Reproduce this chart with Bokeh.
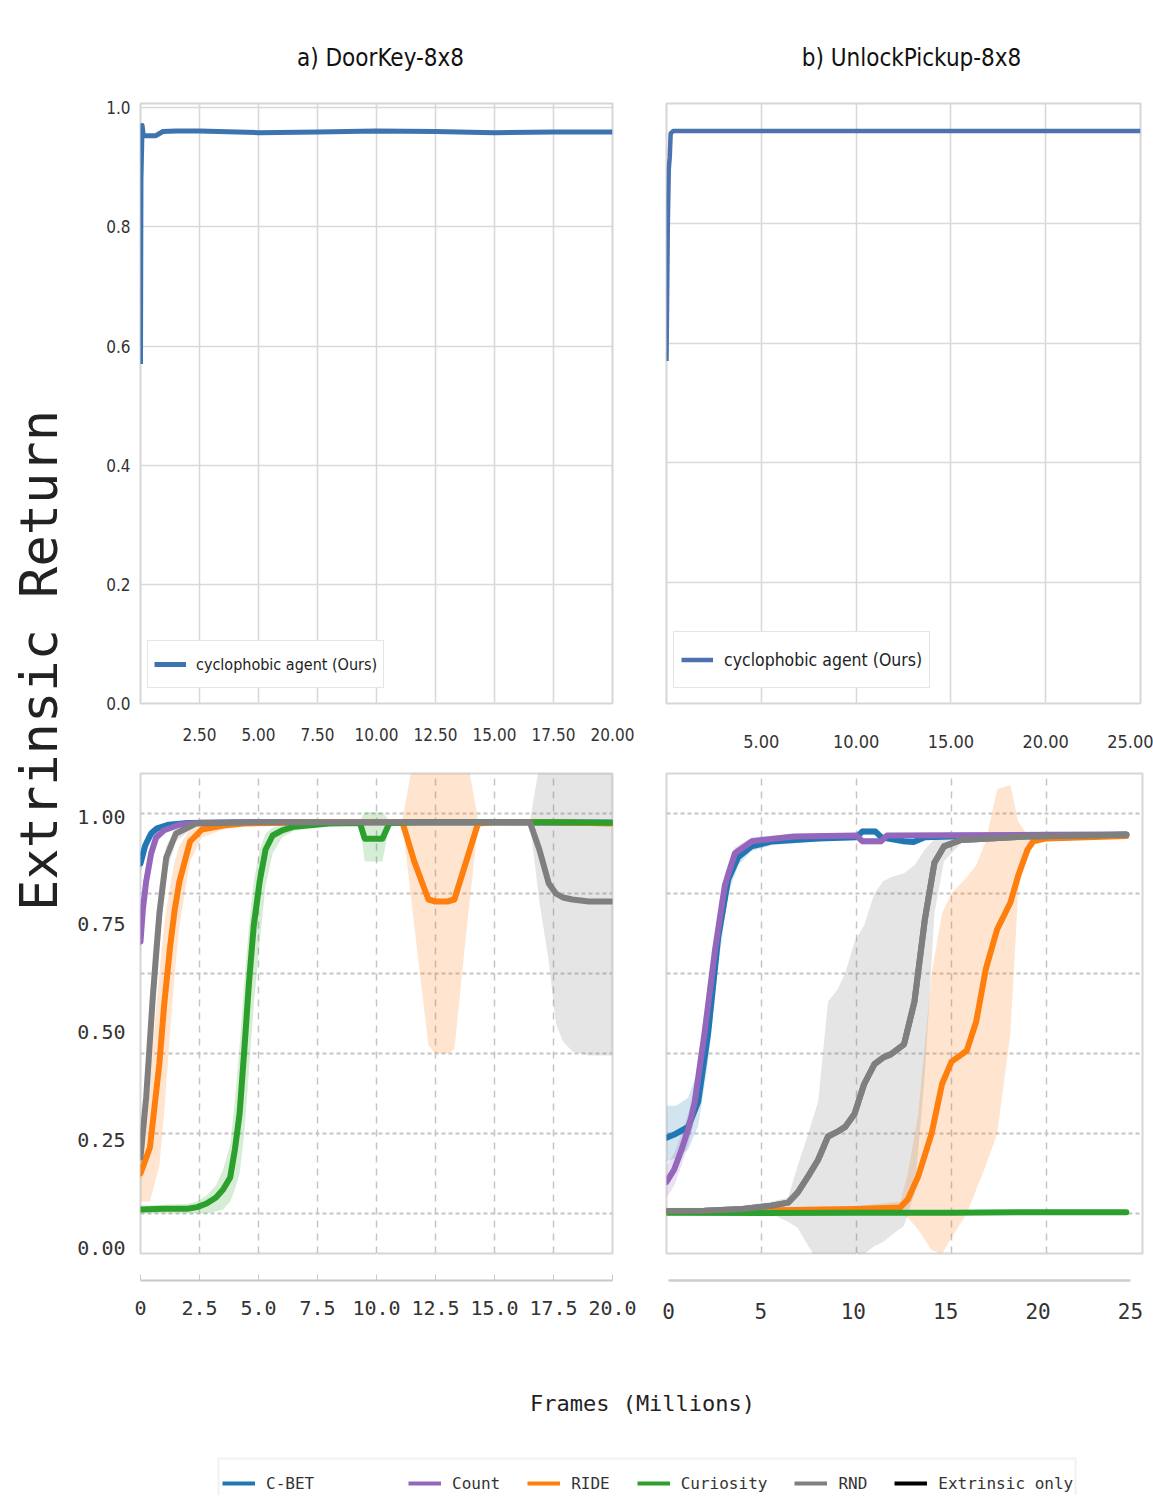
import numpy as np
from bokeh.plotting import figure
from bokeh.models import (Range1d, LinearAxis, FixedTicker, NumeralTickFormatter,
                          Legend, LegendItem, Label, BoxAnnotation)
from bokeh.layouts import row, column
from bokeh.embed import file_html
from bokeh.resources import INLINE

# ---------------- data ----------------
# a) DoorKey-8x8, cyclophobic agent
tl_x = [0, 0.02, 0.07, 0.12, 0.3, 0.65, 0.95, 1.5, 2.5, 5, 7.5, 10, 12.5, 15, 17.5, 20]
tl_y = [0.57, 0.88, 0.97, 0.953, 0.953, 0.953, 0.96, 0.961, 0.961, 0.958, 0.959, 0.961, 0.96, 0.958, 0.959, 0.959]
# b) UnlockPickup-8x8, cyclophobic agent
tr_x = [0, 0.07, 0.12, 0.17, 0.22, 0.35, 1, 5, 10, 15, 20, 25]
tr_y = [0.57, 0.80, 0.89, 0.91, 0.95, 0.954, 0.954, 0.954, 0.954, 0.954, 0.954, 0.954]

# DoorKey baselines (mean, lower, upper)
dk_cbet_x = [0, 0.2, 0.45, 0.7, 1.2, 2.0, 5.0, 10.0, 15.0, 20.0]
dk_cbet_y = [0.875, 0.92, 0.95, 0.963, 0.972, 0.976, 0.978, 0.978, 0.978, 0.977]
dk_cbet_lo = [0.85, 0.90, 0.935, 0.955, 0.967, 0.972, 0.975, 0.975, 0.975, 0.974]
dk_cbet_hi = [0.90, 0.94, 0.962, 0.97, 0.977, 0.98, 0.981, 0.981, 0.981, 0.98]

dk_count_x = [0, 0.1, 0.24, 0.45, 0.66, 1.0, 1.65, 2.5, 5.0, 10.0, 15.0, 20.0]
dk_count_y = [0.68, 0.76, 0.83, 0.90, 0.94, 0.958, 0.972, 0.977, 0.978, 0.978, 0.978, 0.977]
dk_count_lo = [0.64, 0.72, 0.80, 0.88, 0.925, 0.95, 0.967, 0.974, 0.975, 0.975, 0.975, 0.974]
dk_count_hi = [0.72, 0.80, 0.86, 0.92, 0.952, 0.965, 0.977, 0.98, 0.981, 0.981, 0.981, 0.98]

dk_ride_x = [0, 0.4, 0.8, 1.0, 1.25, 1.45, 1.65, 2.1, 2.6, 3.5, 4.4, 8.0, 11.1, 11.6, 12.2,
             12.5, 13.0, 13.3, 13.8, 14.3, 15.0, 17.5, 20.0]
dk_ride_y = [0.10, 0.165, 0.375, 0.52, 0.665, 0.76, 0.83, 0.93, 0.96, 0.97, 0.975, 0.978, 0.978,
             0.88, 0.785, 0.78, 0.78, 0.785, 0.88, 0.975, 0.978, 0.978, 0.975]
dk_ride_lo = [0.03, 0.03, 0.12, 0.25, 0.45, 0.60, 0.72, 0.88, 0.94, 0.96, 0.97, 0.975, 0.975,
              0.72, 0.42, 0.40, 0.40, 0.41, 0.70, 0.97, 0.975, 0.975, 0.97]
dk_ride_hi = [0.20, 0.35, 0.60, 0.72, 0.82, 0.88, 0.92, 0.96, 0.975, 0.98, 0.98, 0.98, 0.985,
              1.15, 1.15, 1.15, 1.15, 1.15, 1.15, 0.985, 0.98, 0.98, 0.98]

dk_cur_x = [0, 1.0, 2.0, 2.4, 2.8, 3.2, 3.5, 3.8, 4.0, 4.2, 4.4, 4.6, 4.8, 5.05, 5.3, 5.6, 6.0,
            6.5, 8.0, 9.3, 9.5, 10.25, 10.55, 12.0, 15.0, 17.5, 20.0]
dk_cur_y = [0.01, 0.012, 0.012, 0.016, 0.025, 0.04, 0.06, 0.09, 0.16, 0.25, 0.41, 0.58, 0.72,
            0.83, 0.91, 0.945, 0.958, 0.967, 0.975, 0.976, 0.937, 0.937, 0.976, 0.978, 0.978,
            0.978, 0.977]
dk_cur_lo = [0.0, 0.0, 0.0, 0.0, 0.0, 0.005, 0.01, 0.03, 0.06, 0.10, 0.20, 0.36, 0.52, 0.68,
             0.82, 0.90, 0.94, 0.957, 0.97, 0.97, 0.88, 0.88, 0.97, 0.974, 0.974, 0.974, 0.973]
dk_cur_hi = [0.02, 0.022, 0.024, 0.03, 0.045, 0.07, 0.11, 0.17, 0.28, 0.42, 0.58, 0.72, 0.83,
             0.91, 0.95, 0.965, 0.97, 0.975, 0.98, 0.982, 1.003, 1.003, 0.982, 0.981, 0.981,
             0.981, 0.98]

dk_rnd_x = [0, 0.24, 0.52, 0.8, 1.09, 1.5, 2.35, 5.0, 10.0, 15.0, 16.5, 16.9, 17.3, 17.6, 17.9,
            18.3, 19.0, 20.0]
dk_rnd_y = [0.14, 0.29, 0.54, 0.75, 0.89, 0.95, 0.975, 0.978, 0.978, 0.978, 0.978, 0.91, 0.825,
            0.80, 0.79, 0.785, 0.78, 0.78]
dk_rnd_lo = [0.08, 0.22, 0.45, 0.68, 0.85, 0.93, 0.97, 0.975, 0.975, 0.975, 0.975, 0.78, 0.63,
             0.475, 0.43, 0.405, 0.395, 0.395]
dk_rnd_hi = [0.20, 0.37, 0.65, 0.82, 0.92, 0.96, 0.98, 0.981, 0.981, 0.981, 0.981, 1.12, 1.15,
             1.15, 1.15, 1.15, 1.15, 1.15]

# UnlockPickup baselines
up_cbet_x = [0, 0.5, 1.14, 1.67, 2.19, 2.72, 3.25, 3.77, 4.47, 5.5, 8.0, 10.0, 10.3, 11.0, 11.3,
             12.5, 13.0, 13.6, 15.0, 20.0, 24.2]
up_cbet_y = [0.19, 0.20, 0.217, 0.28, 0.45, 0.69, 0.835, 0.89, 0.917, 0.929, 0.937, 0.94, 0.954,
             0.954, 0.94, 0.93, 0.928, 0.94, 0.942, 0.944, 0.946]
up_cbet_lo = [0.13, 0.14, 0.16, 0.22, 0.38, 0.62, 0.80, 0.87, 0.905, 0.92, 0.93, 0.933, 0.946,
              0.946, 0.933, 0.922, 0.92, 0.933, 0.936, 0.938, 0.94]
up_cbet_hi = [0.27, 0.27, 0.29, 0.36, 0.53, 0.75, 0.87, 0.91, 0.928, 0.938, 0.944, 0.947, 0.962,
              0.962, 0.947, 0.937, 0.936, 0.947, 0.948, 0.95, 0.952]

up_count_x = [0, 0.4, 0.79, 1.2, 1.49, 2.0, 2.54, 3.07, 3.6, 4.5, 6.7, 10.0, 10.3, 11.3, 11.6,
              15.0, 20.0, 24.2]
up_count_y = [0.08, 0.11, 0.16, 0.22, 0.28, 0.45, 0.654, 0.82, 0.90, 0.93, 0.942, 0.944, 0.93,
              0.93, 0.944, 0.945, 0.946, 0.947]
up_count_lo = [0.04, 0.07, 0.12, 0.18, 0.24, 0.41, 0.62, 0.79, 0.885, 0.92, 0.936, 0.938, 0.922,
               0.922, 0.938, 0.939, 0.94, 0.941]
up_count_hi = [0.12, 0.15, 0.20, 0.26, 0.33, 0.50, 0.69, 0.85, 0.915, 0.94, 0.948, 0.95, 0.938,
               0.938, 0.95, 0.951, 0.952, 0.953]

up_ride_x = [0, 5, 10, 12.3, 12.7, 13.25, 13.95, 14.5, 15.0, 15.8, 16.3, 16.8, 17.4, 18.1, 18.5,
             19.0, 19.3, 20.0, 24.2]
up_ride_y = [0.004, 0.008, 0.012, 0.016, 0.036, 0.094, 0.2, 0.324, 0.38, 0.407, 0.48, 0.61, 0.71,
             0.777, 0.843, 0.909, 0.93, 0.937, 0.943]
up_ride_lo = [0.0, 0.0, 0.0, 0.0, -0.01, -0.04, -0.09, -0.1, -0.06, 0.0, 0.06, 0.12, 0.2, 0.45,
              0.8, 0.92, 0.925, 0.93, 0.94]
up_ride_hi = [0.01, 0.015, 0.02, 0.03, 0.1, 0.25, 0.6, 0.75, 0.8, 0.84, 0.87, 0.93, 1.06, 1.07,
              0.98, 0.945, 0.945, 0.945, 0.945]

up_cur_x = [0, 5, 10, 15, 20, 24.2]
up_cur_y = [0.003, 0.002, 0.003, 0.003, 0.004, 0.004]

up_rnd_x = [0, 2, 4, 5.5, 6.4, 6.9, 7.46, 7.98, 8.5, 9.0, 9.4, 9.9, 10.4, 10.95, 11.4, 11.8,
            12.5, 13.05, 13.6, 14.1, 14.6, 15.5, 19.0, 24.2]
up_rnd_y = [0.007, 0.008, 0.012, 0.02, 0.028, 0.053, 0.094, 0.135, 0.193, 0.205, 0.217, 0.25,
            0.324, 0.374, 0.39, 0.398, 0.423, 0.53, 0.736, 0.876, 0.917, 0.933, 0.942, 0.946]
up_rnd_lo = [0.0, 0.0, 0.0, 0.0, -0.02, -0.035, -0.08, -0.12, -0.12, -0.12, -0.12, -0.12, -0.1,
             -0.08, -0.07, -0.055, -0.03, 0.05, 0.35, 0.75, 0.88, 0.925, 0.935, 0.94]
up_rnd_hi = [0.015, 0.015, 0.02, 0.03, 0.04, 0.12, 0.2, 0.28, 0.53, 0.56, 0.6, 0.68, 0.72, 0.80,
             0.83, 0.84, 0.85, 0.87, 0.91, 0.935, 0.945, 0.95, 0.952, 0.955]

method_names = ["C-BET", "Count", "RIDE", "Curiosity", "RND", "Extrinsic only"]
method_colors = ["#1f77b4", "#9467bd", "#ff7f0e", "#2ca02c", "#7f7f7f", "#000000"]

top_titles = ["a) DoorKey-8x8", "b) UnlockPickup-8x8"]
top_legend = "cyclophobic agent (Ours)"
y_label = "Extrinsic Return"
x_label = "Frames (Millions)"

SANS = "DejaVu Sans Condensed, Liberation Sans, sans-serif"
MONO = "DejaVu Sans Mono"
FRAME = "#d6d6d6"


def make_fig(width, height, xr, yr, mbl, mbr, mbt, mbb):
    p = figure(width=width, height=height, x_range=xr, y_range=yr,
               output_backend="svg", toolbar_location=None,
               x_axis_location=None, y_axis_location=None,
               min_border_left=mbl, min_border_right=mbr,
               min_border_top=mbt, min_border_bottom=mbb)
    p.outline_line_color = FRAME
    p.outline_line_width = 2
    p.background_fill_color = "white"
    p.border_fill_color = "white"
    return p


def style_axis(ax, font, size, standoff, color="#333333"):
    ax.axis_line_color = None
    ax.major_tick_line_color = None
    ax.minor_tick_line_color = None
    ax.major_tick_out = 0
    ax.major_tick_in = 0
    ax.major_label_text_font = font
    ax.major_label_text_font_size = size
    ax.major_label_text_color = color
    ax.major_label_standoff = standoff


def blank_fig(width, height):
    p = figure(width=width, height=height, output_backend="svg", toolbar_location=None,
               x_axis_location=None, y_axis_location=None, min_border=0,
               x_range=Range1d(0, 1), y_range=Range1d(0, 1))
    p.outline_line_color = None
    p.grid.visible = False
    p.background_fill_color = "white"
    p.border_fill_color = "white"
    return p


# ---------------- header (panel titles) ----------------
head = blank_fig(1083, 80)
head.add_layout(Label(x=310, y=23, x_units="screen", y_units="screen", text=top_titles[0],
                      text_align="center", text_baseline="middle", text_font=SANS,
                      text_font_size="24px", text_color="#111111"))
head.add_layout(Label(x=841, y=23, x_units="screen", y_units="screen", text=top_titles[1],
                      text_align="center", text_baseline="middle", text_font=SANS,
                      text_font_size="24px", text_color="#111111"))

# ---------------- top-left ----------------
tl = make_fig(570, 685, Range1d(0, 20), Range1d(0, 1.007), 70, 28, 23, 60)
tl.xgrid.ticker = FixedTicker(ticks=[2.5, 5, 7.5, 10, 12.5, 15, 17.5, 20])
tl.ygrid.ticker = FixedTicker(ticks=[0.2, 0.4, 0.6, 0.8, 1.0])
for g in (tl.xgrid, tl.ygrid):
    g.grid_line_color = "#d9d9d9"
    g.grid_line_width = 1.6
ax = LinearAxis(ticker=FixedTicker(ticks=[2.5, 5, 7.5, 10, 12.5, 15, 17.5, 20]),
                formatter=NumeralTickFormatter(format="0.00"))
style_axis(ax, SANS, "17px", 24)
tl.add_layout(ax, "below")
ay = LinearAxis(ticker=FixedTicker(ticks=[0, 0.2, 0.4, 0.6, 0.8, 1.0]),
                formatter=NumeralTickFormatter(format="0.0"))
style_axis(ay, SANS, "17px", 10)
tl.add_layout(ay, "left")
r_tl = tl.line(tl_x, tl_y, line_color="#3d74b0", line_width=5, line_join="round")
leg = Legend(items=[LegendItem(label=top_legend, renderers=[r_tl])], location=(7, 15),
             glyph_width=32, glyph_height=34, label_standoff=10, padding=6, margin=0,
             label_text_font=SANS, label_text_font_size="16px", label_text_color="#222222",
             border_line_color="#cccccc", border_line_width=1.5)
tl.add_layout(leg)

# ---------------- top-right ----------------
tr = make_fig(513, 685, Range1d(0, 25), Range1d(-0.002, 1.0), 26, 13, 23, 62)
tr.xgrid.ticker = FixedTicker(ticks=[5, 10, 15, 20, 25])
tr.ygrid.ticker = FixedTicker(ticks=[0.2, 0.4, 0.6, 0.8, 1.0])
for g in (tr.xgrid, tr.ygrid):
    g.grid_line_color = "#d9d9d9"
    g.grid_line_width = 1.6
ax = LinearAxis(ticker=FixedTicker(ticks=[5, 10, 15, 20, 25]),
                formatter=NumeralTickFormatter(format="0.00"))
style_axis(ax, SANS, "18px", 31)
tr.add_layout(ax, "below")
r_tr = tr.line(tr_x, tr_y, line_color="#4c72b0", line_width=4.5, line_join="round")
leg = Legend(items=[LegendItem(label=top_legend, renderers=[r_tr])], location=(7, 15),
             glyph_width=32, glyph_height=41, label_standoff=11, padding=7, margin=0,
             label_text_font=SANS, label_text_font_size="17.5px", label_text_color="#222222",
             border_line_color="#cccccc", border_line_width=1.5)
tr.add_layout(leg)


def bottom_grid(p, xticks):
    p.xgrid.ticker = FixedTicker(ticks=xticks)
    p.ygrid.ticker = FixedTicker(ticks=[0, 0.2, 0.4, 0.6, 0.8, 1.0])
    p.xgrid.grid_line_color = "#c4c4c4"
    p.xgrid.grid_line_width = 1.5
    p.xgrid.grid_line_dash = "7 6"
    p.ygrid.grid_line_color = "#c4c4c4"
    p.ygrid.grid_line_width = 2
    p.ygrid.grid_line_dash = "4 3"


def spacer_axis(p, tick, px):
    # blank axis (white tick on white, no labels) that only reserves room
    # between the frame and the visible axis below it
    sp = LinearAxis(ticker=FixedTicker(ticks=[tick]), axis_line_color=None,
                    major_tick_line_color="white", major_tick_line_width=1,
                    minor_tick_line_color=None, major_tick_out=px, major_tick_in=0,
                    major_label_standoff=0, major_label_text_color=None)
    p.add_layout(sp, "below")


def draw_series(p, series):
    for (x, y, lo, hi, c) in series:
        if lo is not None:
            p.varea(x=x, y1=lo, y2=hi, fill_color=c, fill_alpha=0.2)
    for (x, y, lo, hi, c) in series:
        p.line(x, y, line_color=c, line_width=6, line_join="round", line_cap="round")


# ---------------- bottom-left ----------------
bl = make_fig(570, 575, Range1d(0, 20), Range1d(-0.1, 1.1), 70, 28, 8, 87)
bl.extra_y_ranges = {"lab": Range1d(-0.0139, 1.0998)}
bottom_grid(bl, [2.5, 5, 7.5, 10, 12.5, 15, 17.5])
spacer_axis(bl, 10, 27)
ax = LinearAxis(ticker=FixedTicker(ticks=[0, 2.5, 5, 7.5, 10, 12.5, 15, 17.5, 20]),
                formatter=NumeralTickFormatter(format="0.0"), major_label_overrides={0: "0"},
                bounds=(0, 20))
style_axis(ax, MONO, "20px", 20)
ax.axis_line_color = "#c8c8c8"
ax.axis_line_width = 2
ax.major_tick_line_color = "#c8c8c8"
ax.major_tick_in = 6
bl.add_layout(ax, "below")
ay = LinearAxis(y_range_name="lab", ticker=FixedTicker(ticks=[0, 0.25, 0.5, 0.75, 1.0]),
                formatter=NumeralTickFormatter(format="0.00"))
style_axis(ay, MONO, "20px", 15)
bl.add_layout(ay, "left")
draw_series(bl, [
    (dk_cbet_x, dk_cbet_y, dk_cbet_lo, dk_cbet_hi, method_colors[0]),
    (dk_count_x, dk_count_y, dk_count_lo, dk_count_hi, method_colors[1]),
    (dk_ride_x, dk_ride_y, dk_ride_lo, dk_ride_hi, method_colors[2]),
    (dk_cur_x, dk_cur_y, dk_cur_lo, dk_cur_hi, method_colors[3]),
    (dk_rnd_x, dk_rnd_y, dk_rnd_lo, dk_rnd_hi, method_colors[4]),
])

# ---------------- bottom-right ----------------
br = make_fig(513, 575, Range1d(0, 25.05), Range1d(-0.099, 1.099), 26, 11, 8, 82)
br.extra_x_ranges = {"ax": Range1d(-0.108, 25.65)}
bottom_grid(br, [5, 10, 15, 20])
spacer_axis(br, 10, 27)
ax = LinearAxis(x_range_name="ax", ticker=FixedTicker(ticks=[0, 5, 10, 15, 20, 25]),
                bounds=(0, 25))
style_axis(ax, MONO, "21px", 22)
ax.axis_line_color = "#cccccc"
ax.axis_line_width = 2.5
br.add_layout(ax, "below")
draw_series(br, [
    (up_cbet_x, up_cbet_y, up_cbet_lo, up_cbet_hi, method_colors[0]),
    (up_count_x, up_count_y, up_count_lo, up_count_hi, method_colors[1]),
    (up_ride_x, up_ride_y, up_ride_lo, up_ride_hi, method_colors[2]),
    (up_rnd_x, up_rnd_y, up_rnd_lo, up_rnd_hi, method_colors[4]),
    (up_cur_x, up_cur_y, None, None, method_colors[3]),
])
# RND line again on top of the curiosity line
br.line(up_rnd_x, up_rnd_y, line_color=method_colors[4], line_width=6, line_join="round",
        line_cap="round")

# ---------------- left strip (y label) ----------------
strip = blank_fig(70, 1340)
strip.add_layout(Label(x=38, y=680, x_units="screen", y_units="screen", text=y_label,
                       angle=np.pi / 2, text_align="center", text_baseline="middle",
                       text_font=MONO, text_font_size="52px", text_color="#222222"))

# ---------------- footer (x label + legend) ----------------
foot = blank_fig(1153, 155)
foot.add_layout(Label(x=642, y=92, x_units="screen", y_units="screen", text=x_label,
                      text_align="center", text_baseline="middle", text_font=MONO,
                      text_font_size="22px", text_color="#222222"))
foot.add_layout(BoxAnnotation(left=218, right=1075, top=37, bottom=-20, left_units="screen",
                              right_units="screen", top_units="screen", bottom_units="screen",
                              fill_alpha=0, line_color="#cfcfcf", line_width=2))
dummy = [foot.line(x=[np.nan], y=[np.nan], line_color=c, line_width=4) for c in method_colors]


def foot_legend(idx, loc):
    return Legend(items=[LegendItem(label=method_names[i], renderers=[dummy[i]]) for i in idx],
                  location=loc, orientation="horizontal", glyph_width=33, glyph_height=20,
                  label_standoff=11, spacing=27, padding=0, margin=0,
                  label_text_font=MONO, label_text_font_size="16px",
                  label_text_color="#333333", border_line_color=None,
                  background_fill_alpha=0)


foot.add_layout(foot_legend([0], (222, 2)))
foot.add_layout(foot_legend([1, 2, 3, 4, 5], (408, 2)))

layout = column(row(strip, column(head, row(tl, tr), row(bl, br))), foot)

open("out.html", "w").write(file_html(layout, INLINE))
